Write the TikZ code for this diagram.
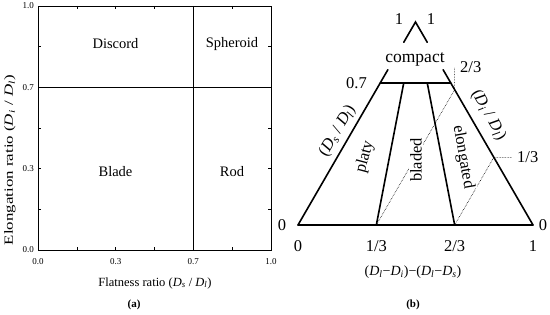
\documentclass[tikz,border=0pt]{standalone}
\usepackage{fontspec}
\setmainfont{Liberation Serif}
\usetikzlibrary{calc}
\newcommand{\fsz}[1]{\fontsize{#1}{#1}\selectfont}
\newcommand{\Dsub}[1]{\textit{D}\textsubscript{\textit{#1}}}
\tikzset{
  frame/.style={draw, line width=0.8pt},
  divide/.style={line width=0.8pt},
  tick/.style={line width=0.6pt},
  ticklab/.style={font=\fsz{9}, inner sep=1pt},
  zonelab/.style={font=\fsz{14.5}, inner sep=0pt},
  axislab/.style={font=\fsz{12.5}, inner sep=0pt},
  panel/.style={font=\bfseries\fsz{11}, inner sep=0pt},
  edge/.style={line width=1.6pt, line cap=round},
  guide/.style={densely dotted, line width=0.6pt},
  frac/.style={font=\fsz{16.5}, inner sep=1pt},
  shapelab/.style={font=\fsz{16.5}, inner sep=1pt, fill=white}
}

\begin{document}
\begin{tikzpicture}[x=1pt, y=1pt]
  \useasboundingbox (0,0) rectangle (550,314);

  % (a) ratio chart
  \coordinate (o) at (38,64);
  \coordinate (c) at (271,308);
  \draw[frame] (o) rectangle (c);
  \draw[divide] (193.33,64) -- (193.33,308);
  \draw[divide] (38,226.67) -- (271,226.67);
  \foreach \k in {1,...,5} {
    \draw[tick] (38+233*\k/6,64) -- ++(0,3);
    \draw[tick] (38+233*\k/6,308) -- ++(0,-3);
    \draw[tick] (38,64+244*\k/6) -- ++(3,0);
    \draw[tick] (271,64+244*\k/6) -- ++(-3,0);
  }
  \node[ticklab] (x0) at (38,52) {0.0};
  \node[ticklab] (x1) at (115.67,52) {0.3};
  \node[ticklab] (x2) at (193.33,52) {0.7};
  \node[ticklab] (x3) at (271,52) {1.0};
  \node[ticklab, anchor=east] (y0) at (35,64) {0.0};
  \node[ticklab, anchor=east] (y1) at (35,145.33) {0.3};
  \node[ticklab, anchor=east] (y2) at (35,226.67) {0.7};
  \node[ticklab, anchor=east] (y3) at (35,308) {1.0};
  \node[zonelab] (discord) at (115.5,270) {Discord};
  \node[zonelab] (spheroid) at (232,270) {Spheroid};
  \node[zonelab] (blade) at (115.5,142) {Blade};
  \node[zonelab] (rod) at (232,142) {Rod};
  \node[axislab] (flat) at (155,31) {Flatness ratio (\Dsub{s} / \Dsub{l})};
  \node[axislab, rotate=90, xscale=1.35] (elong) at (10,154) {Elongation ratio (\Dsub{i} / \Dsub{l})};
  \node[panel] (pa) at (134,9) {(a)};

  % (b) triangle
  \coordinate (A) at (298,89);
  \coordinate (B) at (533,89);
  \coordinate (T) at (415.5,292);
  \coordinate (P1) at ($(A)!1/3!(B)$);
  \coordinate (P2) at ($(A)!2/3!(B)$);
  \coordinate (L7) at ($(A)!0.7!(T)$);
  \coordinate (R7) at ($(B)!0.7!(T)$);
  \coordinate (R1) at ($(B)!1/3!(T)$);
  \coordinate (R2) at ($(B)!2/3!(T)$);
  \coordinate (R1e) at ($(R1)+(18,0)$);
  \coordinate (R2e) at ($(R2)+(0,22.5)$);

  \draw[guide] (P1) -- (R2) -- (R2e);
  \draw[guide] (P2) -- (R1) -- (R1e);
  \draw[edge] (A) -- (B);
  \draw[edge] (A) -- ($(A)!0.765!(T)$);
  \draw[edge] (B) -- ($(B)!0.765!(T)$);
  \draw[edge] ($(A)!0.9!(T)$) -- (T) -- ($(B)!0.9!(T)$);
  \draw[edge] (L7) -- (R7);
  \draw[edge] (P1) -- ($(P1)!0.7!(T)$);
  \draw[edge] (P2) -- ($(P2)!0.7!(T)$);

  \node[frac] (one1) at (399,295) {1};
  \node[frac] (one2) at (431,295) {1};
  \node[frac, font=\fsz{17.5}, anchor=base, inner sep=0pt] (compact) at (415,251) {compact};
  \node[frac, anchor=east] (seven) at (368,231) {0.7};
  \node[frac, anchor=west] (twothird) at (459,247) {2/3};
  \node[frac, anchor=west] (onethird) at (516,157) {1/3};
  \node[frac] (zl) at (282,89) {0};
  \node[frac] (zr) at (543,89) {0};
  \node[frac] (b0) at (298,68) {0};
  \node[frac] (b1) at (376.3,68) {1/3};
  \node[frac] (b2) at (454.7,68) {2/3};
  \node[frac] (b3) at (533,68) {1};
  \node[shapelab, rotate=75] (platy) at (365,157) {platy};
  \node[shapelab, rotate=90] (bladed) at (416,154) {bladed};
  \node[shapelab, rotate=-80] (elongated) at (463,157) {elongated};
  \node[frac, rotate=59.4] (sideL) at (337.5,183) {(\Dsub{s} / \Dsub{l})};
  \node[frac, rotate=-60.3] (sideR) at (488.5,199) {(\Dsub{i} / \Dsub{l})};
  \node[axislab, font=\fsz{14}] (formula) at (413,42) {(\Dsub{l}−\Dsub{i})−(\Dsub{l}−\Dsub{s})};
  \node[panel] (pb) at (413,9) {(b)};
\end{tikzpicture}
\end{document}
